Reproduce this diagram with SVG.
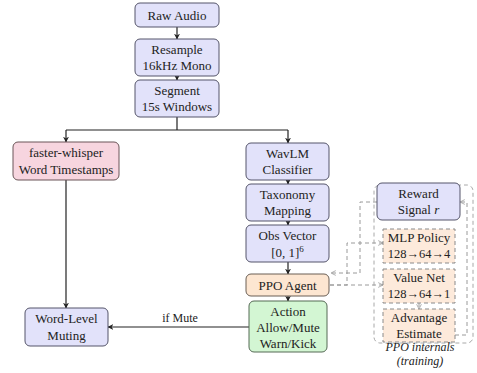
<svg xmlns="http://www.w3.org/2000/svg" width="477" height="373" viewBox="0 0 477 373">
<style>
text{font-family:"Liberation Serif","Times New Roman",serif;font-size:13px;fill:#222;text-anchor:middle}
.lav{fill:#e2e2fa;stroke:#55556a;stroke-width:1}
.pink{fill:#f7d5df;stroke:#6a5558;stroke-width:1}
.peach{fill:#fde6d1;stroke:#6a5f55;stroke-width:1}
.green{fill:#d3f6d3;stroke:#556a55;stroke-width:1}
.dpeach{fill:#fdeadb;stroke:#8a8a8a;stroke-width:1;stroke-dasharray:4 3}
.sol{fill:none;stroke:#222;stroke-width:1.2}
.dash{fill:none;stroke:#9a9a9a;stroke-width:1;stroke-dasharray:4 3}
.it{font-style:italic}
.num{font-size:12.5px}
</style>
<defs>
<marker id="ah" viewBox="0 0 10 10" refX="9" refY="5" markerWidth="6" markerHeight="6" orient="auto" markerUnits="userSpaceOnUse">
<path d="M0,0 L10,5 L0,10 L3,5 Z" fill="#222"/>
</marker>
<marker id="ahd" viewBox="0 0 10 10" refX="9" refY="5" markerWidth="6" markerHeight="6" orient="auto" markerUnits="userSpaceOnUse">
<path d="M1,1 L9,5 L1,9" fill="none" stroke="#9a9a9a" stroke-width="1.3"/>
</marker>
</defs>

<g id="container">
<rect x="374" y="185" width="99" height="158" rx="6" fill="none" stroke="#a8a8a8" stroke-width="1" stroke-dasharray="4 3"/>
</g>

<g id="connectors">
<path class="sol" d="M177,27 V39" marker-end="url(#ah)"/>
<path class="sol" d="M177,76 V80" marker-end="url(#ah)"/>
<path class="sol" d="M177,117 V130 M66,130 H288"/>
<path class="sol" d="M66,130 V142" marker-end="url(#ah)"/>
<path class="sol" d="M288,130 V143" marker-end="url(#ah)"/>
<path class="sol" d="M288,180 V184" marker-end="url(#ah)"/>
<path class="sol" d="M288,221 V225" marker-end="url(#ah)"/>
<path class="sol" d="M288,262 V274" marker-end="url(#ah)"/>
<path class="sol" d="M288,296 V301" marker-end="url(#ah)"/>
<path class="sol" d="M66,180 V308" marker-end="url(#ah)"/>
<path class="sol" d="M249,327 H108" marker-end="url(#ah)"/>
<text x="180" y="322" style="font-size:12px">if Mute</text>
<path class="dash" d="M377,202 H360 V273 H331" marker-end="url(#ahd)"/>
<path class="dash" d="M330,285 H347 V243 H383" marker-end="url(#ahd)"/>
<path class="dash" d="M330,285 H383" marker-end="url(#ahd)"/>
<path class="dash" d="M419,303 V309" marker-end="url(#ahd)"/>
<path class="dash" d="M455,335 H467 V202 H460" marker-end="url(#ahd)"/>
</g>

<g id="raw-audio"><rect class="lav" x="135" y="3" width="84" height="24" rx="5"/><text x="177" y="20">Raw Audio</text></g>
<g id="resample"><rect class="lav" x="135" y="39" width="84" height="37" rx="5"/><text x="177" y="54">Resample</text><text x="177" y="70">16kHz Mono</text></g>
<g id="segment"><rect class="lav" x="135" y="80" width="84" height="37" rx="5"/><text x="177" y="95">Segment</text><text x="177" y="111">15s Windows</text></g>
<g id="faster-whisper"><rect class="pink" x="13" y="142" width="106" height="38" rx="5"/><text x="66" y="157">faster-whisper</text><text x="66" y="174">Word Timestamps</text></g>
<g id="wavlm"><rect class="lav" x="246" y="143" width="83" height="37" rx="5"/><text x="287.5" y="158">WavLM</text><text x="287.5" y="174">Classifier</text></g>
<g id="taxonomy"><rect class="lav" x="246" y="184" width="83" height="37" rx="5"/><text x="287.5" y="199">Taxonomy</text><text x="287.5" y="215">Mapping</text></g>
<g id="obs-vector"><rect class="lav" x="246" y="225" width="83" height="37" rx="5"/><text x="287.5" y="240">Obs Vector</text><text x="287.5" y="257">[0, 1]<tspan dy="-5" style="font-size:9px">6</tspan></text></g>
<g id="ppo-agent"><rect class="peach" x="246" y="274" width="83" height="22" rx="5"/><text x="287.5" y="290">PPO Agent</text></g>
<g id="action"><rect class="green" x="249" y="301" width="78" height="51" rx="5"/><text x="288" y="316">Action</text><text x="288" y="332">Allow/Mute</text><text x="288" y="348">Warn/Kick</text></g>
<g id="word-muting"><rect class="lav" x="25" y="308" width="83" height="38" rx="5"/><text x="66.5" y="323">Word-Level</text><text x="66.5" y="340">Muting</text></g>

<g id="reward"><rect class="lav" x="377" y="183" width="83" height="37" rx="5"/><text x="418.5" y="198">Reward</text><text x="418.5" y="214">Signal <tspan class="it">r</tspan></text></g>
<g id="mlp-policy"><rect class="dpeach" x="383" y="229" width="72" height="34"/><text x="419" y="242">MLP Policy</text><text class="num" x="419" y="258">128→64→4</text></g>
<g id="value-net"><rect class="dpeach" x="383" y="269" width="72" height="34"/><text x="419" y="282">Value Net</text><text class="num" x="419" y="298">128→64→1</text></g>
<g id="advantage"><rect class="dpeach" x="383" y="309" width="72" height="33"/><text x="419" y="322">Advantage</text><text x="419" y="338">Estimate</text></g>
<g id="ppo-label"><text class="it" x="420" y="351" style="font-size:12px">PPO internals</text><text class="it" x="420" y="365" style="font-size:12px">(training)</text></g>
</svg>
